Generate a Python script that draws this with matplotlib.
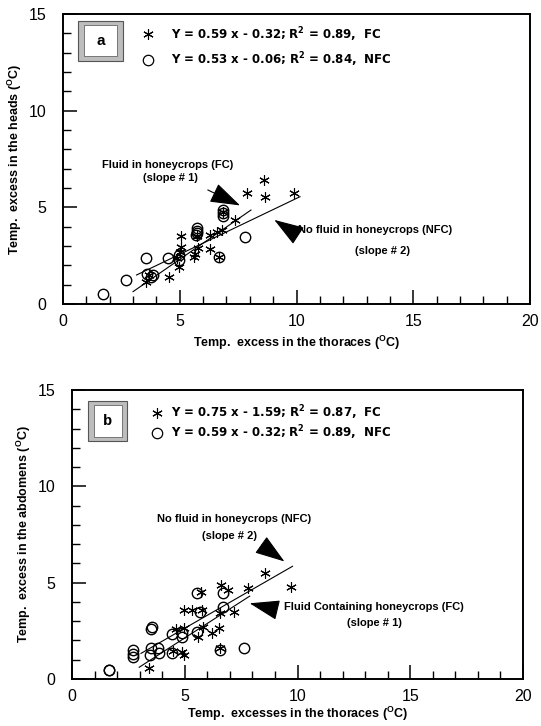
import matplotlib
matplotlib.use("Agg")
import matplotlib.pyplot as plt
from matplotlib.patches import Rectangle
from matplotlib.ticker import MultipleLocator

plt.rcParams['font.family'] = ['Liberation Sans', 'DejaVu Sans']
plt.rcParams['mathtext.default'] = 'regular'

# ---------------- data: panel a (heads vs thoraces) ----------------
a_fc_x = [3.55, 3.7, 4.55, 4.95, 5.05, 5.05, 4.9, 5.6, 5.65, 5.8, 6.3, 6.7, 6.3, 6.6, 6.8,
          5.75, 6.85, 7.35, 7.9, 8.6, 8.65, 9.9, 5.0]
a_fc_y = [1.15, 1.5, 1.4, 1.9, 3.5, 2.95, 2.4, 2.45, 2.6, 2.9, 2.85, 2.45, 3.55, 3.7, 3.85,
          3.5, 4.75, 4.35, 5.75, 6.4, 5.55, 5.75, 2.7]
a_nfc_x = [1.7, 2.7, 3.55, 3.6, 3.75, 3.85, 4.5, 4.95, 4.95, 5.75, 5.75, 5.75, 5.7,
           6.85, 6.85, 6.85, 6.7, 7.8]
a_nfc_y = [0.5, 1.25, 2.4, 1.55, 1.4, 1.5, 2.4, 2.3, 2.55, 3.65, 3.8, 3.95, 3.55,
           4.55, 4.7, 4.85, 2.45, 3.45]
a_fit_fc_x = [3.0, 8.05]
a_fit_fc_y = [0.64, 4.86]
a_fit_nfc_x = [3.15, 10.15]
a_fit_nfc_y = [1.5, 5.55]
a_leg = ["Y = 0.59 x - 0.32; R$^2$ = 0.89,  FC", "Y = 0.53 x - 0.06; R$^2$ = 0.84,  NFC"]

# ---------------- data: panel b (abdomens vs thoraces) ----------------
b_fc_x = [3.42, 4.88, 4.95, 4.5, 4.6, 4.95, 4.95, 5.3, 5.75, 5.6, 5.8, 5.7, 6.2, 6.5,
          6.55, 7.2, 6.55, 6.6, 6.9, 7.8, 8.55, 9.7]
b_fc_y = [0.55, 1.42, 1.25, 1.45, 2.6, 2.63, 3.58, 3.58, 3.58, 2.2, 2.7, 4.53, 2.37, 2.63,
          3.45, 3.5, 1.6, 4.88, 4.62, 4.7, 5.5, 4.8]
b_nfc_x = [1.62, 1.66, 2.7, 2.7, 2.7, 3.52, 3.56, 3.5, 3.45, 3.8, 3.86, 4.44, 4.44, 4.88,
           4.88, 5.54, 5.54, 5.69, 6.71, 6.71, 6.56, 7.63]
b_nfc_y = [0.47, 0.47, 1.15, 1.32, 1.5, 2.6, 2.72, 1.59, 1.25, 1.6, 1.35, 1.33, 2.32, 2.2,
           2.4, 2.45, 4.45, 3.49, 4.48, 3.75, 1.5, 1.59]
b_fit_fc_x = [2.98, 7.88]
b_fit_fc_y = [0.61, 4.3]
b_fit_nfc_x = [3.06, 9.78]
b_fit_nfc_y = [1.33, 5.85]
b_leg = ["Y = 0.75 x - 1.59; R$^2$ = 0.87,  FC", "Y = 0.59 x - 0.32; R$^2$ = 0.89,  NFC"]

XTICKS = [0, 5, 10, 15, 20]
YTICKS = [0, 5, 10, 15]

fig = plt.figure(figsize=(5.41, 7.26), dpi=100)
fig.patch.set_facecolor('white')

ax_a = fig.add_axes([63 / 541, (726 - 304) / 726, 467 / 541, 290 / 726])
ax_b = fig.add_axes([72 / 541, (726 - 679) / 726, 451 / 541, 289 / 726])

STAR = (6, 2, 0)
LEGFONT = ['DejaVu Sans', 'Liberation Sans']


def style(ax, xlabel, ylabel, xpad):
    ax.set_xlim(0, 20)
    ax.set_ylim(0, 15)
    ax.set_xticks(XTICKS)
    ax.set_yticks(YTICKS)
    ax.xaxis.set_minor_locator(MultipleLocator(1))
    ax.yaxis.set_minor_locator(MultipleLocator(1))
    ax.tick_params(which='major', direction='in', length=10, width=1.1, labelsize=11.5,
                   top=False, right=False)
    ax.tick_params(which='minor', direction='in', length=6, width=1.0, top=False, right=False)
    ax.tick_params(axis='y', which='major', pad=12)
    ax.tick_params(axis='x', which='major', pad=7)
    for s in ax.spines.values():
        s.set_linewidth(1.4)
    ax.set_xlabel(xlabel, fontsize=9, fontweight='bold', labelpad=xpad)
    ax.set_ylabel(ylabel, fontsize=9, fontweight='bold', labelpad=3)


def points(ax, fx, fy, nx, ny):
    ax.plot(nx, ny, linestyle='none', marker='o', markersize=7.5, markerfacecolor='none',
            markeredgecolor='black', markeredgewidth=1.0, zorder=3)
    ax.plot(fx, fy, linestyle='none', marker=STAR, markersize=7.5, color='black',
            markeredgewidth=0.8, zorder=4)


def legend_box(ax, letter, x0, y0, w, h, fam):
    ax.add_patch(Rectangle((x0, y0), w, h, transform=ax.transAxes, facecolor='#bdbdbd',
                           edgecolor='#555555', lw=0.8, zorder=5, clip_on=False))
    ix, iy = 0.013, 0.016
    ax.add_patch(Rectangle((x0 + ix, y0 + iy), w - 2 * ix, h - 2 * iy, transform=ax.transAxes,
                           facecolor='white', edgecolor='#666666', lw=0.6, zorder=6,
                           clip_on=False))
    ax.text(x0 + w / 2, y0 + h / 2, letter, transform=ax.transAxes, ha='center', va='center',
            fontsize=11, fontweight='bold', family=fam, zorder=7)


ARROW = dict(arrowstyle='-|>,head_length=0.95,head_width=0.32', color='black', lw=0.8,
             mutation_scale=20, shrinkA=0, shrinkB=0)
ANN = dict(fontsize=8, fontweight='bold', va='center')

# ---------------- panel a ----------------
style(ax_a, r'Temp.  excess in the thoraces ($^{O}$C)', r'Temp.  excess in the heads ($^{O}$C)', 4)
ax_a.plot(a_fit_fc_x, a_fit_fc_y, color='black', lw=0.8, zorder=2)
ax_a.plot(a_fit_nfc_x, a_fit_nfc_y, color='black', lw=0.8, zorder=2)
points(ax_a, a_fc_x, a_fc_y, a_nfc_x, a_nfc_y)
legend_box(ax_a, 'a', 0.033, 0.838, 0.096, 0.139, ['Liberation Sans', 'DejaVu Sans'])
ax_a.plot([3.64], [13.95], linestyle='none', marker=STAR, markersize=7.5, color='black',
          markeredgewidth=0.8)
ax_a.plot([3.64], [12.62], linestyle='none', marker='o', markersize=7.5, markerfacecolor='none',
          markeredgecolor='black', markeredgewidth=0.9)
ax_a.text(4.63, 13.95, a_leg[0], fontsize=8.5, fontweight='bold', va='center', ha='left',
          family=LEGFONT)
ax_a.text(4.63, 12.62, a_leg[1], fontsize=8.5, fontweight='bold', va='center', ha='left',
          family=LEGFONT)
ax_a.text(4.5, 7.2, 'Fluid in honeycrops (FC)', ha='center', **ANN)
ax_a.text(4.6, 6.5, '(slope # 1)', ha='center', **ANN)
ax_a.annotate('', xy=(7.58, 5.1), xytext=(6.2, 5.9), arrowprops=ARROW)
ax_a.text(10.05, 3.85, 'No fluid in honeycrops (NFC)', ha='left', **ANN)
ax_a.text(13.7, 2.75, '(slope # 2)', ha='center', **ANN)
ax_a.annotate('', xy=(9.05, 4.35), xytext=(10.0, 3.6), arrowprops=ARROW)

# ---------------- panel b ----------------
style(ax_b, r'Temp.  excesses in the thoraces ($^{O}$C)',
      r'Temp.  excess in the abdomens ($^{O}$C)', 1)
ax_b.plot(b_fit_fc_x, b_fit_fc_y, color='black', lw=0.8, zorder=2)
ax_b.plot(b_fit_nfc_x, b_fit_nfc_y, color='black', lw=0.8, zorder=2)
points(ax_b, b_fc_x, b_fc_y, b_nfc_x, b_nfc_y)
legend_box(ax_b, 'b', 0.035, 0.822, 0.088, 0.141, ['Liberation Mono', 'DejaVu Sans Mono'])
ax_b.plot([3.77], [13.8], linestyle='none', marker=STAR, markersize=7.5, color='black',
          markeredgewidth=0.8)
ax_b.plot([3.77], [12.77], linestyle='none', marker='o', markersize=7.5, markerfacecolor='none',
          markeredgecolor='black', markeredgewidth=0.9)
ax_b.text(4.39, 13.8, b_leg[0], fontsize=8.5, fontweight='bold', va='center', ha='left',
          family=LEGFONT)
ax_b.text(4.39, 12.77, b_leg[1], fontsize=8.5, fontweight='bold', va='center', ha='left',
          family=LEGFONT)
ax_b.text(7.2, 8.3, 'No fluid in honeycrops (NFC)', ha='center', **ANN)
ax_b.text(7.0, 7.4, '(slope # 2)', ha='center', **ANN)
ax_b.annotate('', xy=(9.42, 6.1), xytext=(8.4, 6.95), arrowprops=ARROW)
ax_b.text(13.4, 3.75, 'Fluid Containing honeycrops (FC)', ha='center', **ANN)
ax_b.text(13.4, 2.9, '(slope # 1)', ha='center', **ANN)
ax_b.annotate('', xy=(7.88, 3.93), xytext=(9.05, 3.6), arrowprops=ARROW)

fig.savefig('out.png', dpi=100, facecolor='white')
